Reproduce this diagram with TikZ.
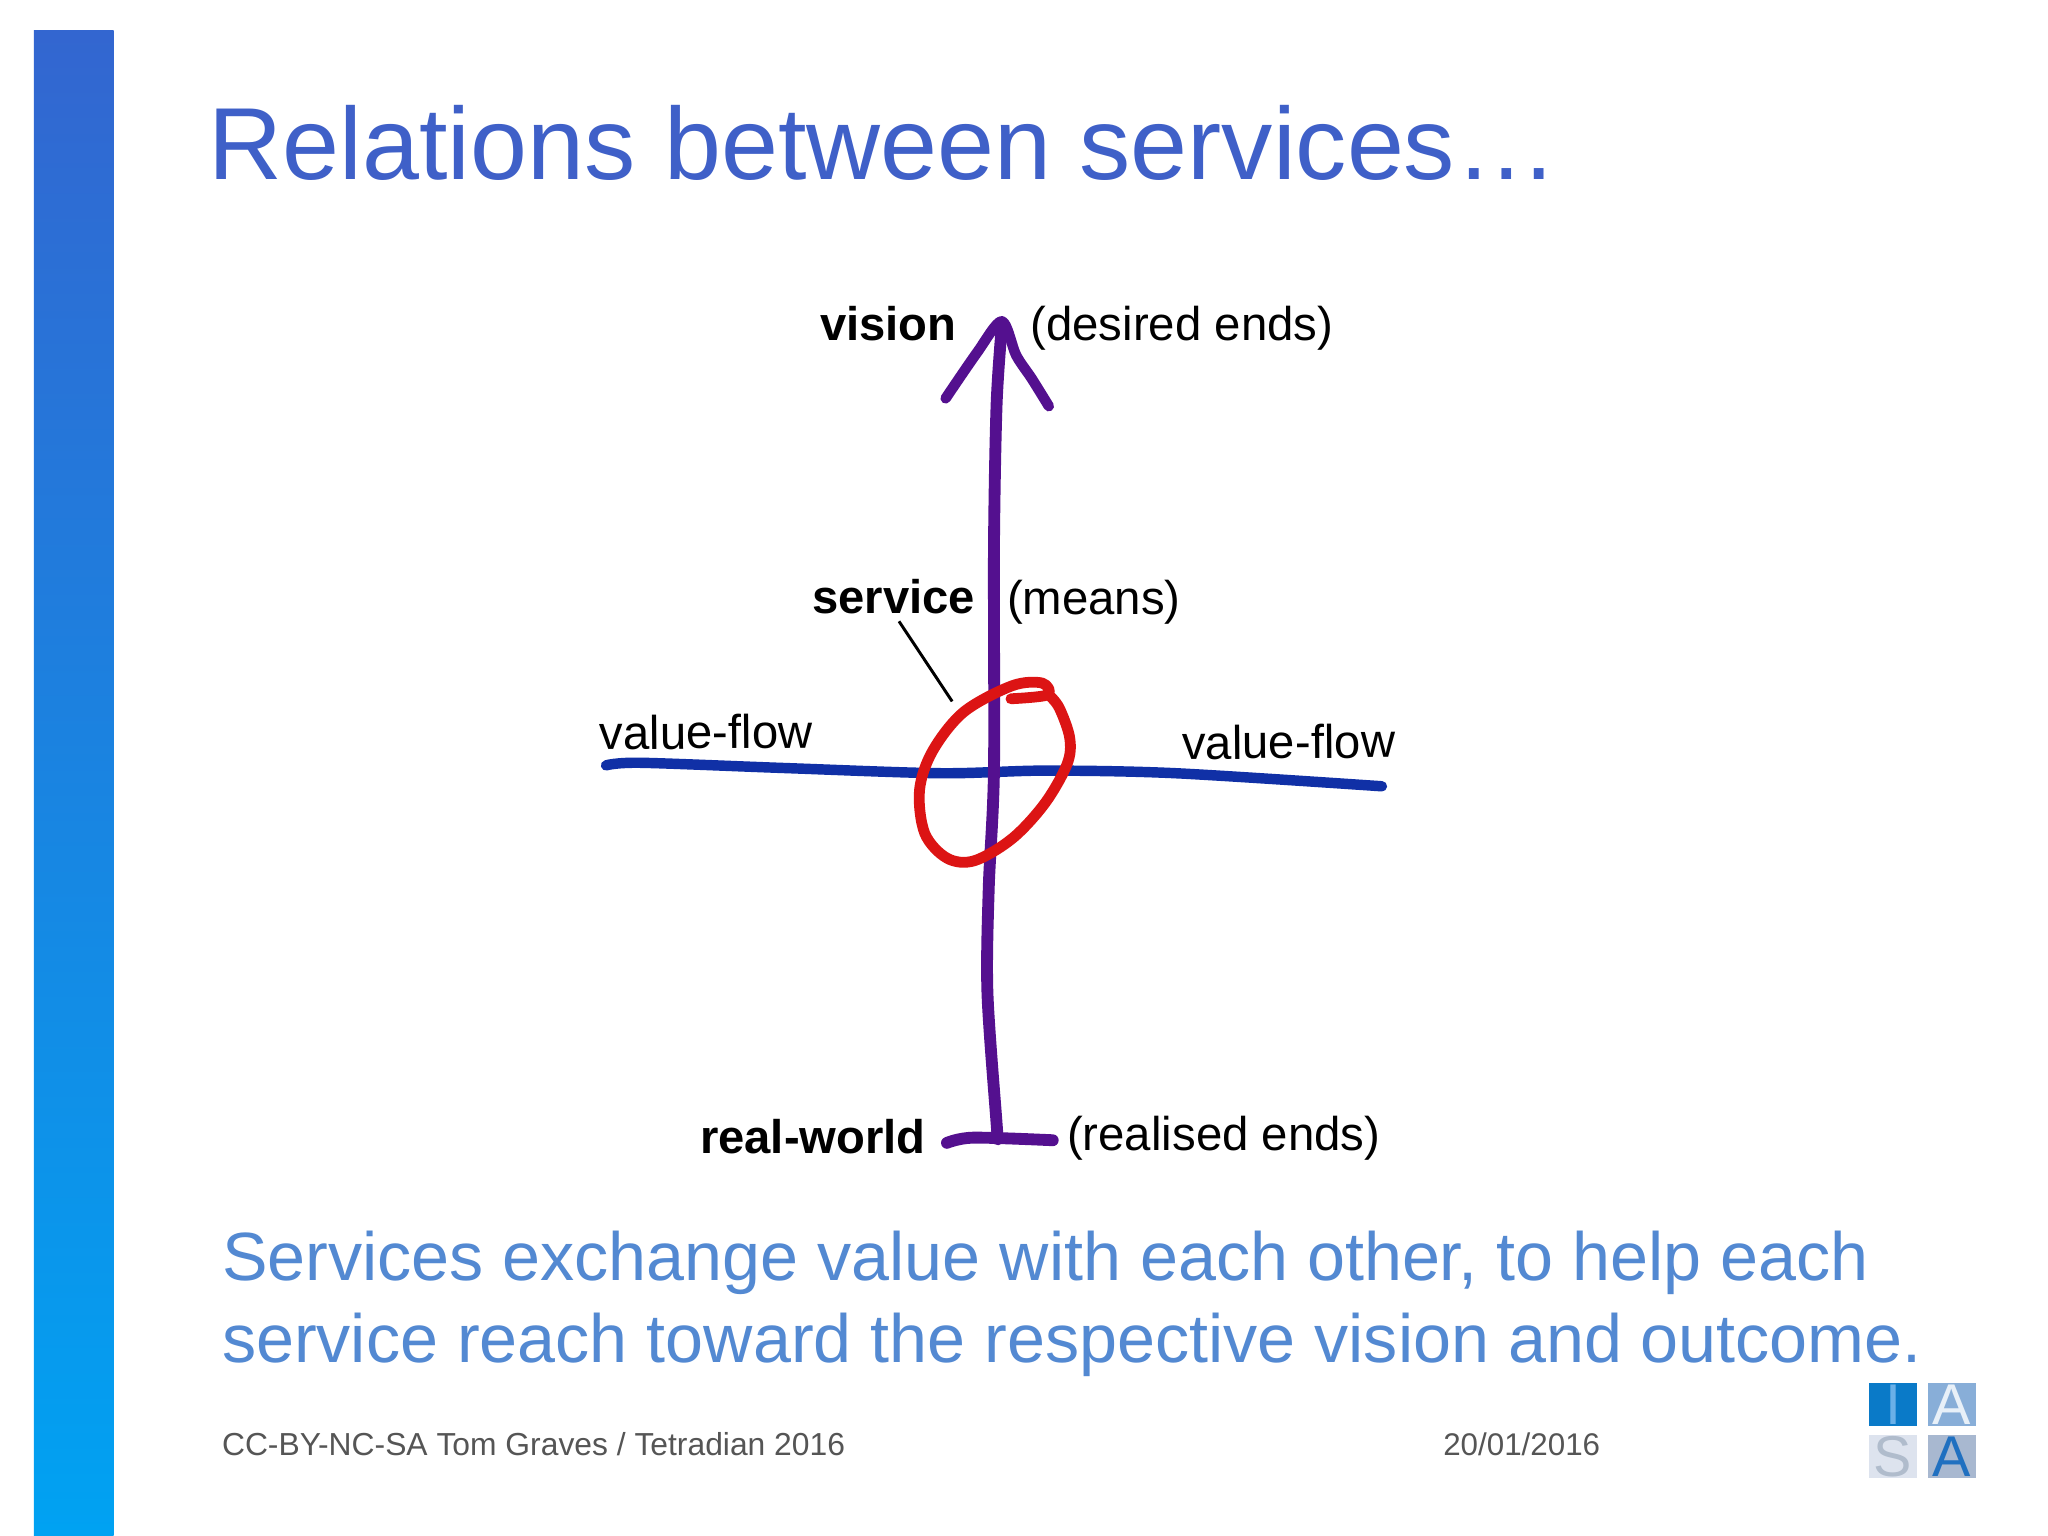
\documentclass[tikz,border=0pt]{standalone}
\usepackage{fontspec}
\setmainfont{Liberation Sans}
\definecolor{titlec}{HTML}{3F60C8}
\definecolor{bodyc}{HTML}{5389D2}
\definecolor{footc}{HTML}{555555}
\definecolor{purplec}{HTML}{54108F}
\definecolor{bluec}{HTML}{1030A6}
\definecolor{redc}{HTML}{DC1414}
\definecolor{bartop}{HTML}{3366D0}
\definecolor{barbot}{HTML}{00A2F2}
\definecolor{sqi}{HTML}{0A7AC8}
\definecolor{txi}{HTML}{6AB0E8}
\definecolor{sqa}{HTML}{88AED8}
\definecolor{txa}{HTML}{E8F0F8}
\definecolor{sqs}{HTML}{DDE3EE}
\definecolor{txs}{HTML}{B0BCCC}
\definecolor{sqb}{HTML}{A8B8D0}
\definecolor{txb}{HTML}{2070C0}
\tikzset{
  lbl/.style={anchor=base west,inner sep=0pt,outer sep=0pt,text=black,font=\fontsize{27.2}{30}\selectfont},
  lblb/.style={lbl,font=\fontsize{27.1}{30}\selectfont\bfseries},
  pen/.style={line cap=round,line join=round},
  txt/.style={anchor=base west,inner sep=0pt,outer sep=0pt},
  logosq/.style={anchor=north west,minimum width=27.5pt,minimum height=24.5pt,inner sep=0pt,outer sep=0pt,font=\fontsize{33}{33}\selectfont},
}
\begin{document}
\begin{tikzpicture}[x=0.75pt,y=-0.75pt]
\useasboundingbox (0,0) rectangle (1568,1176);
\fill[white] (0,0) rectangle (1568,1176);
\shade[top color=bartop,bottom color=barbot] (26,23) rectangle (87,1176);
% texts
\node[txt,text=titlec,font=\fontsize{58.8}{60}\selectfont] (title) at (160,137.5) {Relations between services…};
\node[txt,text=bodyc,font=\fontsize{39.2}{40}\selectfont] (body1) at (170,980) {Services exchange value with each other, to help each};
\node[txt,text=bodyc,font=\fontsize{39.2}{40}\selectfont] (body2) at (170,1043) {service reach toward the respective vision and outcome.};
\node[txt,text=footc,font=\fontsize{18.27}{20}\selectfont] (foot) at (170,1114.5) {CC-BY-NC-SA Tom Graves / Tetradian 2016};
\node[txt,text=footc,font=\fontsize{18}{20}\selectfont] (date) at (1105,1114.5) {20/01/2016};
% strokes
\draw[pen,bluec,line width=6pt] plot[smooth,tension=0.5] coordinates {(464,586) (490,584) (600,588) (720,592) (800,590) (900,592) (1058,602)};
\draw[pen,purplec,line width=6.8pt] plot[smooth,tension=0.5] coordinates {(767,250) (763,310) (761,420) (761,590) (757,680) (756,760) (763,860) (764,872)};
\draw[pen,purplec,line width=6pt] plot[smooth,tension=0.5] coordinates {(724,305) (748,270) (767,246) (778,272) (790,290) (803,311)};
\draw[pen,purplec,line width=6.8pt] plot[smooth,tension=0.5] coordinates {(725,875) (745,871) (806,873)};
\draw[pen,redc,line width=6.2pt] plot[smooth,tension=0.55] coordinates {(774,535) (802,532) (798,523) (775,525) (738,545) (714,575) (704,605) (708,638) (725,657) (746,659) (775,642) (800,615) (817,585) (819,565) (811,542) (803,532)};
% labels
\node[lblb] (vision) at (628,261) {vision};
\node[lbl] (desired) at (789,260.5) {(desired ends)};
\node[lblb] (service) at (622,470) {service};
\node[lbl] (means) at (771,470.5) {(means)};
\node[lbl,rotate=0.5] (vfl) at (459,574) {value-flow};
\node[lbl,rotate=0.5] (vfr) at (905,581.5) {value-flow};
\node[lblb] (real) at (536,883) {real-world};
\node[lbl] (realised) at (817,880.5) {(realised ends)};
\coordinate (touch) at (729,537);
\draw[line width=1.7pt,black] ([xshift=3pt,yshift=-4pt]service.south) -- (touch);
% logo
\node[logosq,fill=sqi,text=txi] (li) at (1431,1059) {I};
\node[logosq,fill=sqa,text=txa] (la) at (1476,1059) {A};
\node[logosq,fill=sqs,text=txs] (ls) at (1431,1099) {S};
\node[logosq,fill=sqb,text=txb] (lb) at (1476,1099) {A};
\end{tikzpicture}
\end{document}
